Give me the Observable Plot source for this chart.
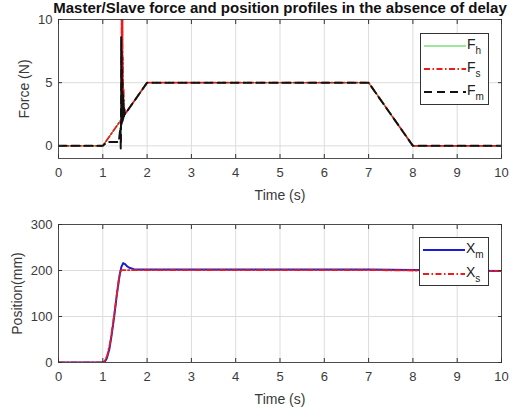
<!DOCTYPE html>
<html>
<head>
<meta charset="utf-8">
<script src="https://cdn.jsdelivr.net/npm/d3@7"></script>
<script src="https://cdn.jsdelivr.net/npm/@observablehq/plot@0.6"></script>
<style>
  body { margin: 0; background: #fff; font-family: "Liberation Sans", Arial, sans-serif; }
  #wrap { position: relative; width: 527px; height: 414px; overflow: hidden; background: #fff; }
  #title { position: absolute; left: 0; top: 0; width: 560px; text-align: center; font-weight: bold; font-size: 15px; line-height: 16px; color: #111; white-space: nowrap; }
  .plot { position: absolute; left: 0; }
  .legend { position: absolute; background: #fff; border: 1px solid #333; box-sizing: border-box; }
  .legend svg { display: block; }
</style>
</head>
<body>
<div id="wrap">
  <div id="title">Master/Slave force and position profiles in the absence of delay</div>
</div>
<script>
// ---------- data ----------
const timeTicks = [0, 1, 2, 3, 4, 5, 6, 7, 8, 9, 10];
const forceTicks = [0, 5, 10];
const positionTicks = [0, 100, 200, 300];

// Human force F_h (green)
const timeFh  = [0, 1, 2, 7, 8, 10];
const forceFh = [0, 0, 5, 5, 0, 0];

// Slave force F_s (red dash-dot)
const timeFs  = [0, 1, 1.2, 1.4, 1.42, 1.425, 1.43, 1.435, 1.44, 1.445, 1.45, 1.455, 1.46, 1.47, 1.48, 1.5, 1.55, 2, 7, 8, 10];
const forceFs = [0, 0, 1.0, 2.0, 2.1, 12, 2.3, 11.5, 2.4, 10, 2.5, 7.0, 2.5, 4.5, 2.6, 2.5, 2.75, 5, 5, 0, 0];

// Master force F_m (black dashed)
const timeFm  = [0, 1, 1.05, 1.12, 1.3, 1.36, 1.4, 1.405, 1.41, 1.415, 1.42, 1.425, 1.43, 1.435, 1.44, 1.445, 1.45, 1.455, 1.46, 1.465, 1.47, 1.475, 1.48, 1.49, 1.5, 1.55, 2, 7, 8, 10];
const forceFm = [0, 0, 0.15, 0.3, 0.3, 0.3, 1.5, -0.2, 0.5, 8.6, 1.6, 7.5, 1.8, 6.0, 1.9, 5.0, 2.0, 4.0, 2.1, 3.6, 2.2, 3.2, 2.3, 2.9, 2.5, 2.75, 5, 5, 0, 0];

// Master position X_m (blue)
const timeXm = [0, 1.0, 1.05, 1.09, 1.15, 1.2, 1.26, 1.32, 1.38, 1.42, 1.46, 1.5, 1.55, 1.6, 1.7, 1.8, 2, 7, 8, 10];
const posXm  = [0, 0, 2, 9, 30, 60, 102, 150, 190, 208, 216, 214, 209, 206, 203, 202, 202, 202, 201, 199];

// Slave position X_s (red dash-dot)
const timeXs = [0, 0.98, 1.04, 1.1, 1.17, 1.23, 1.3, 1.36, 1.4, 1.42, 1.46, 2, 7, 8, 10];
const posXs  = [0, 0, 3, 15, 45, 85, 135, 180, 198, 201, 201, 201, 201, 200, 199];

// ---------- helpers ----------
const zip = (xs, ys) => xs.map((t, i) => ({t, v: ys[i]}));
const FONT = '"Liberation Sans", Arial, sans-serif';
const GRID = "#dcdcdc";
const AX = "#333";
const TXT = "#3a3a3a";

function grids(yTicks) {
  return [
    Plot.gridX(timeTicks, {stroke: GRID, strokeOpacity: 1}),
    Plot.gridY(yTicks, {stroke: GRID, strokeOpacity: 1}),
  ];
}
function frameAndTicks(yTicks, yLabel, yLabelOffset) {
  return [
    Plot.frame({stroke: AX, strokeOpacity: 0.85}),
    // tick labels
    Plot.axisX(timeTicks, {anchor: "bottom", tickSize: 0, tickPadding: 9, fill: TXT, fontSize: 13, label: null}),
    Plot.axisY(yTicks, {anchor: "left", tickSize: 0, tickPadding: 6, fill: TXT, fontSize: 13, label: null}),
    // axis titles
    Plot.axisX(timeTicks, {anchor: "bottom", tickSize: 0, tickFormat: () => "", fill: TXT, fontSize: 14,
      label: "Time (s)", labelAnchor: "center", labelOffset: 41, labelArrow: "none"}),
    Plot.axisY(yTicks, {anchor: "left", tickSize: 0, tickFormat: () => "", fill: TXT, fontSize: 14,
      label: yLabel, labelAnchor: "center", labelOffset: yLabelOffset, labelArrow: "none"}),
    // inward ticks on all four sides
    Plot.axisX(timeTicks, {anchor: "bottom", tickSize: -4, tickFormat: () => "", label: null, stroke: AX}),
    Plot.axisX(timeTicks, {anchor: "top", tickSize: -4, tickFormat: () => "", label: null, stroke: AX}),
    Plot.axisY(yTicks, {anchor: "left", tickSize: -4, tickFormat: () => "", label: null, stroke: AX}),
    Plot.axisY(yTicks, {anchor: "right", tickSize: -4, tickFormat: () => "", label: null, stroke: AX}),
  ];
}

const wrap = document.getElementById("wrap");

// ---------- force plot ----------
const forcePlot = Plot.plot({
  width: 527, height: 207,
  marginLeft: 58, marginRight: 26, marginTop: 19, marginBottom: 49,
  style: {fontFamily: FONT, fontSize: "13px", color: TXT, background: "transparent"},
  x: {domain: [0, 10], axis: null},
  y: {domain: [-1, 10], axis: null},
  marks: [
    ...grids(forceTicks),
    Plot.line(zip(timeFh, forceFh), {x: "t", y: "v", stroke: "#3ccf3c", strokeWidth: 1.2, clip: true}),
    Plot.line(zip(timeFs, forceFs), {x: "t", y: "v", stroke: "#ec1c1c", strokeWidth: 1.8, strokeDasharray: "6,2.5,1.5,2.5", clip: true}),
    Plot.line(zip(timeFm, forceFm), {x: "t", y: "v", stroke: "#111", strokeWidth: 2, strokeDasharray: "8,5", clip: true}),
    ...frameAndTicks(forceTicks, "Force (N)", 39)
  ]
});
forcePlot.classList.add("plot");
forcePlot.style.top = "0px";
wrap.appendChild(forcePlot);

// ---------- position plot ----------
const posPlot = Plot.plot({
  width: 527, height: 214,
  marginLeft: 58, marginRight: 26, marginTop: 24, marginBottom: 52,
  style: {fontFamily: FONT, fontSize: "13px", color: TXT, background: "transparent"},
  x: {domain: [0, 10], axis: null},
  y: {domain: [0, 300], axis: null},
  marks: [
    ...grids(positionTicks),
    Plot.line(zip(timeXm, posXm), {x: "t", y: "v", stroke: "#1c1cd6", strokeWidth: 2, clip: true}),
    Plot.line(zip(timeXs, posXs), {x: "t", y: "v", stroke: "#ec1c1c", strokeWidth: 1.8, strokeDasharray: "6,2.5,1.5,2.5", clip: true}),
    ...frameAndTicks(positionTicks, "Position(mm)", 46)
  ]
});
posPlot.classList.add("plot");
posPlot.style.top = "200px";
wrap.appendChild(posPlot);

// ---------- legends ----------
const forceLegend = [
  {name: "F", sub: "h", stroke: "#3ccf3c", width: 1.2, dash: null},
  {name: "F", sub: "s", stroke: "#ec1c1c", width: 1.8, dash: "6,2.5,1.5,2.5"},
  {name: "F", sub: "m", stroke: "#111", width: 2, dash: "8,5"}
];
const posLegend = [
  {name: "X", sub: "m", stroke: "#1c1cd6", width: 2, dash: null},
  {name: "X", sub: "s", stroke: "#ec1c1c", width: 1.8, dash: "6,2.5,1.5,2.5"}
];
function legend(items, left, top, w, h, y0, dy) {
  const div = document.createElement("div");
  div.className = "legend";
  Object.assign(div.style, {left: left + "px", top: top + "px", width: w + "px", height: h + "px"});
  const svg = d3.create("svg").attr("width", w - 2).attr("height", h - 2);
  items.forEach((it, i) => {
    const y = y0 + i * dy;
    svg.append("line").attr("x1", 3).attr("x2", 45).attr("y1", y).attr("y2", y)
      .attr("stroke", it.stroke).attr("stroke-width", it.width)
      .attr("stroke-dasharray", it.dash);
    const t = svg.append("text").attr("x", 46).attr("y", y + 3)
      .attr("font-family", FONT).attr("font-size", 14).attr("fill", "#222");
    t.append("tspan").text(it.name);
    t.append("tspan").attr("dy", 5).attr("font-size", 10).text(it.sub);
  });
  div.appendChild(svg.node());
  wrap.appendChild(div);
}
legend(forceLegend, 420, 33, 69, 72, 12, 23);
legend(posLegend, 419, 237, 70, 49, 12, 24);
</script>
</body>
</html>
